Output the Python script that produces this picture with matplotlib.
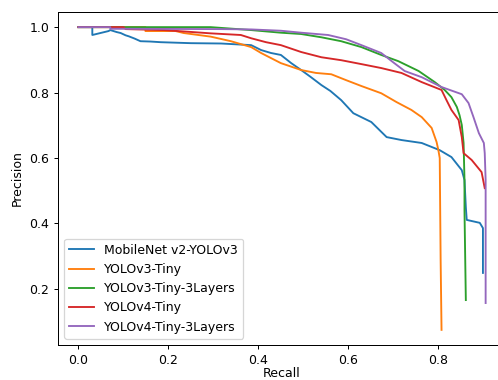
import matplotlib
matplotlib.use("Agg")
import matplotlib.pyplot as plt

labels = ["MobileNet v2-YOLOv3", "YOLOv3-Tiny", "YOLOv3-Tiny-3Layers",
          "YOLOv4-Tiny", "YOLOv4-Tiny-3Layers"]

mb_recall = [0.0, 0.031, 0.031, 0.067, 0.071, 0.085, 0.094, 0.105, 0.112, 0.125, 0.138, 0.160,
             0.183, 0.250, 0.317, 0.384, 0.406, 0.428, 0.450, 0.473, 0.495, 0.517,
             0.540, 0.560, 0.584, 0.611, 0.651, 0.685, 0.718, 0.763, 0.803, 0.829,
             0.852, 0.858, 0.861, 0.863, 0.892, 0.899, 0.899]
mb_prec = [1.0, 1.0, 0.976, 0.988, 0.991, 0.985, 0.982, 0.975, 0.972, 0.965, 0.957, 0.956,
           0.954, 0.951, 0.950, 0.945, 0.930, 0.921, 0.915, 0.890, 0.869, 0.847,
           0.823, 0.805, 0.777, 0.737, 0.710, 0.664, 0.655, 0.646, 0.624, 0.603,
           0.563, 0.533, 0.450, 0.411, 0.402, 0.386, 0.249]

v3t_recall = [0.0, 0.149, 0.149, 0.216, 0.234, 0.294, 0.339, 0.384, 0.406, 0.450, 0.495,
              0.528, 0.562, 0.595, 0.629, 0.673, 0.707, 0.740, 0.763, 0.785, 0.796,
              0.800, 0.803, 0.805, 0.807]
v3t_prec = [1.0, 1.0, 0.988, 0.988, 0.982, 0.971, 0.957, 0.939, 0.921, 0.890, 0.869,
            0.860, 0.856, 0.838, 0.820, 0.798, 0.771, 0.747, 0.725, 0.692, 0.649,
            0.624, 0.600, 0.289, 0.075]

v3t3_recall = [0.0, 0.294, 0.384, 0.450, 0.495, 0.540, 0.584, 0.629, 0.673, 0.711, 0.756,
               0.792, 0.814, 0.829, 0.841, 0.847, 0.852, 0.856, 0.858, 0.858, 0.861]
v3t3_prec = [1.0, 1.0, 0.991, 0.983, 0.979, 0.969, 0.957, 0.939, 0.915, 0.896, 0.866,
             0.832, 0.808, 0.786, 0.756, 0.731, 0.701, 0.646, 0.533, 0.441, 0.166]

v4t_recall = [0.0, 0.100, 0.105, 0.190, 0.243, 0.294, 0.361, 0.384, 0.417, 0.450, 0.495,
              0.540, 0.584, 0.629, 0.673, 0.718, 0.763, 0.807, 0.818, 0.829, 0.845,
              0.852, 0.856, 0.874, 0.896, 0.903]
v4t_prec = [1.0, 1.0, 0.994, 0.991, 0.986, 0.981, 0.976, 0.966, 0.954, 0.945, 0.924,
            0.908, 0.899, 0.887, 0.875, 0.860, 0.832, 0.808, 0.777, 0.747, 0.716,
            0.664, 0.615, 0.594, 0.557, 0.508]

v4t3_recall = [0.0, 0.071, 0.071, 0.317, 0.384, 0.450, 0.495, 0.555, 0.595, 0.629, 0.673,
               0.702, 0.725, 0.763, 0.807, 0.852, 0.867, 0.878, 0.890, 0.901, 0.903,
               0.905, 0.905]
v4t3_prec = [1.0, 1.0, 0.995, 0.994, 0.993, 0.989, 0.983, 0.976, 0.963, 0.945, 0.921,
             0.890, 0.866, 0.847, 0.817, 0.795, 0.768, 0.725, 0.676, 0.646, 0.615,
             0.533, 0.157]

DPI = 90
fig = plt.figure(figsize=(498 / DPI, 380 / DPI), dpi=DPI)
ax = fig.add_axes([58 / 498, 35 / 380, 448 / 498, 333 / 380])

series = [(mb_recall, mb_prec), (v3t_recall, v3t_prec), (v3t3_recall, v3t3_prec),
          (v4t_recall, v4t_prec), (v4t3_recall, v4t3_prec)]
for (r, p), lab in zip(series, labels):
    ax.plot(r, p, label=lab)

ax.set_xlabel("Recall", labelpad=0.5)
ax.set_ylabel("Precision")
ax.legend(loc="lower left")
fig.savefig("out.png", dpi=DPI)
